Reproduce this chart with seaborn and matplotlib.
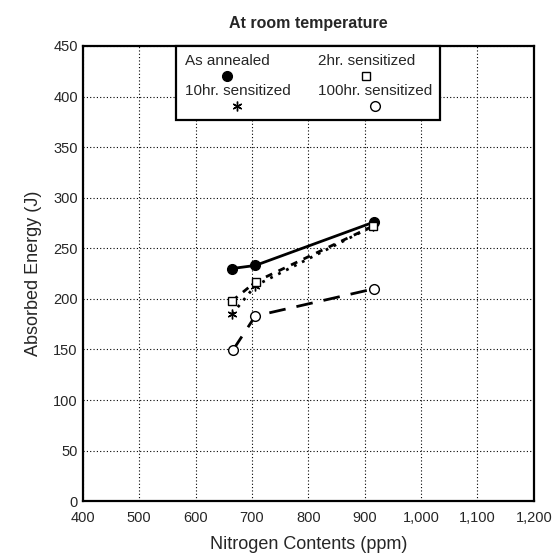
import numpy as np
import pandas as pd
import matplotlib
matplotlib.use("Agg")
import matplotlib.pyplot as plt
from matplotlib.ticker import MultipleLocator, FuncFormatter
from matplotlib.offsetbox import VPacker
import seaborn as sns

# data
nitrogen_annealed = [665, 706, 917]
energy_annealed = [230, 233, 276]
nitrogen_2hr = [665, 707, 915]
energy_2hr = [198, 217, 272]
nitrogen_10hr = [665, 706, 915]
energy_10hr = [185, 213, 272]
nitrogen_100hr = [666, 706, 917]
energy_100hr = [149, 183, 210]

series = [
    ("As annealed", nitrogen_annealed, energy_annealed,
     dict(marker="o", markersize=7, markerfacecolor="black", linestyle="-", linewidth=2.0)),
    ("10hr. sensitized", nitrogen_10hr, energy_10hr,
     dict(marker=(6, 2, 0), markersize=7, markerfacecolor="black", linestyle=(0, (1, 2.2)), linewidth=2.0)),
    ("2hr. sensitized", nitrogen_2hr, energy_2hr,
     dict(marker="s", markersize=6, markerfacecolor="white", linestyle=(0, (2.5, 2.5)), linewidth=2.0)),
    ("100hr. sensitized", nitrogen_100hr, energy_100hr,
     dict(marker="o", markersize=7, markerfacecolor="white", linestyle=(0, (6, 4)), linewidth=2.0)),
]

sns.set_style("white")
plt.rcParams["font.family"] = ["Liberation Sans", "DejaVu Sans"]

fig = plt.figure(figsize=(5.59, 5.60), dpi=100)
ax = fig.add_axes([0.148, 0.105, 0.807, 0.813])

for name, x, y, st in series:
    df = pd.DataFrame({"x": x, "y": y})
    sns.lineplot(data=df, x="x", y="y", ax=ax, color="black", label=name,
                 markeredgecolor="black", markeredgewidth=1.0, **st)

ax.set_xlim(400, 1200)
ax.set_ylim(0, 450)
ax.xaxis.set_major_locator(MultipleLocator(100))
ax.xaxis.set_minor_locator(MultipleLocator(20))
ax.yaxis.set_major_locator(MultipleLocator(50))
ax.yaxis.set_minor_locator(MultipleLocator(25))
ax.xaxis.set_major_formatter(FuncFormatter(lambda v, p: f"{int(v):,}"))
ax.tick_params(which="both", direction="in", color="black", labelsize=10.5, top=False, right=False)
ax.tick_params(which="major", length=6, width=1)
ax.tick_params(which="minor", length=4, width=1)
ax.tick_params(axis="x", pad=7)
ax.grid(True, which="major", linestyle=(0, (1, 2)), color="black", linewidth=0.8)
for sp in ax.spines.values():
    sp.set_color("black")
    sp.set_linewidth(1.6)

ax.set_xlabel("Nitrogen Contents (ppm)", fontsize=13, labelpad=8)
ax.set_ylabel("Absorbed Energy (J)", fontsize=13, labelpad=8)
ax.set_title("At room temperature", fontsize=11.5, fontweight="bold", pad=13)

leg = ax.legend(loc="upper center", ncol=2, borderaxespad=0, fontsize=11,
                handlelength=0, handletextpad=0, columnspacing=1.8,
                labelspacing=0.15, borderpad=0.55, fancybox=False, framealpha=1)
leg.get_frame().set_edgecolor("black")
leg.get_frame().set_linewidth(1.6)
# put each label above its marker
for col in leg._legend_handle_box.get_children():
    col._children = [VPacker(pad=0, sep=2, align="center",
                             children=[h.get_children()[1], h.get_children()[0]])
                     for h in col.get_children()]

fig.savefig("out.png", dpi=100)
